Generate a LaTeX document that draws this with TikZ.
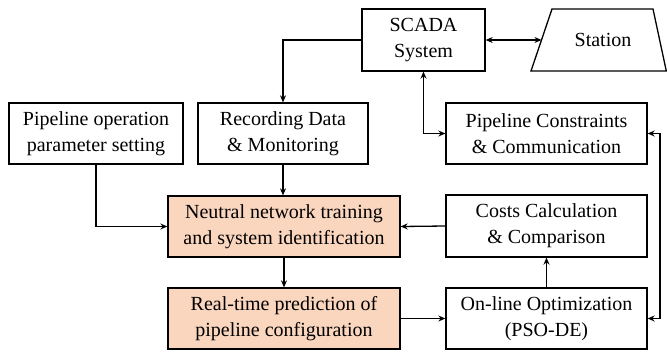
\documentclass[tikz,border=0pt]{standalone}
\usepackage{fontspec}
\setmainfont{LiberationSerif}[Extension=.ttf,UprightFont=*-Regular,BoldFont=*-Bold]
\usetikzlibrary{arrows.meta,shapes.geometric}
\definecolor{peach}{RGB}{250,214,190}
\begin{document}
\begin{tikzpicture}[x=1pt,y=-1pt,
  txt/.style={font=\rmfamily\fontsize{20}{26}\selectfont},
  box/.style={draw,line width=1.3pt,inner sep=0pt,align=center,txt},
  conn/.style={line width=1.3pt,-{Stealth[length=7pt,width=6pt]}},
  conn2/.style={line width=1.3pt,{Stealth[length=7pt,width=6pt]}-{Stealth[length=7pt,width=6pt]}}]
\useasboundingbox (0,0) rectangle (667,354);
\node[box,minimum width=123pt,minimum height=62pt] (scada) at (423.5,40) {SCADA\\System};
\draw[line width=1.3pt] (531,71) -- (552,9) -- (653,9) -- (666.3,71) -- cycle;
\node[txt] (station) at (603,40) {Station};
\coordinate (stw) at (541.5,40);
\node[box,minimum width=174pt,minimum height=61pt] (pop) at (96,133.5) {Pipeline operation\\parameter setting};
\node[box,minimum width=170pt,minimum height=61pt] (rec) at (283,133.5) {Recording Data\\\& Monitoring};
\node[box,minimum width=201pt,minimum height=61pt] (pcc) at (546.5,133.5) {Pipeline Constraints\\\& Communication};
\node[box,fill=peach,minimum width=232pt,minimum height=61pt] (nn) at (284,226.5) {Neutral network training\\and system identification};
\node[box,minimum width=201pt,minimum height=62pt] (cost) at (546.5,226) {Costs Calculation\\\& Comparison};
\node[box,fill=peach,minimum width=232pt,minimum height=61pt] (rt) at (284,318.5) {Real-time prediction of\\pipeline configuration};
\node[box,minimum width=201pt,minimum height=61pt] (opt) at (546.5,318.5) {On-line Optimization\\(PSO-DE)};
\coordinate (rv) at (660,0);
\draw[conn2] (scada.east) -- (stw);
\draw[conn] (scada.west) -| (rec.north);
\draw[conn] (rec.south) -- (rec.south |- nn.north);
\draw[conn] (pop.south) |- (nn.west);
\draw[conn2] (scada.south) |- (pcc.west);
\draw[conn2] (pcc.east) -- (pcc.east -| rv) |- (opt.east);
\draw[conn] (cost.west) -- (nn.east);
\draw[conn] (nn.south) -- (rt.north);
\draw[conn] (rt.east) -- (opt.west);
\draw[conn] (opt.north) -- (cost.south);
\end{tikzpicture}
\end{document}
